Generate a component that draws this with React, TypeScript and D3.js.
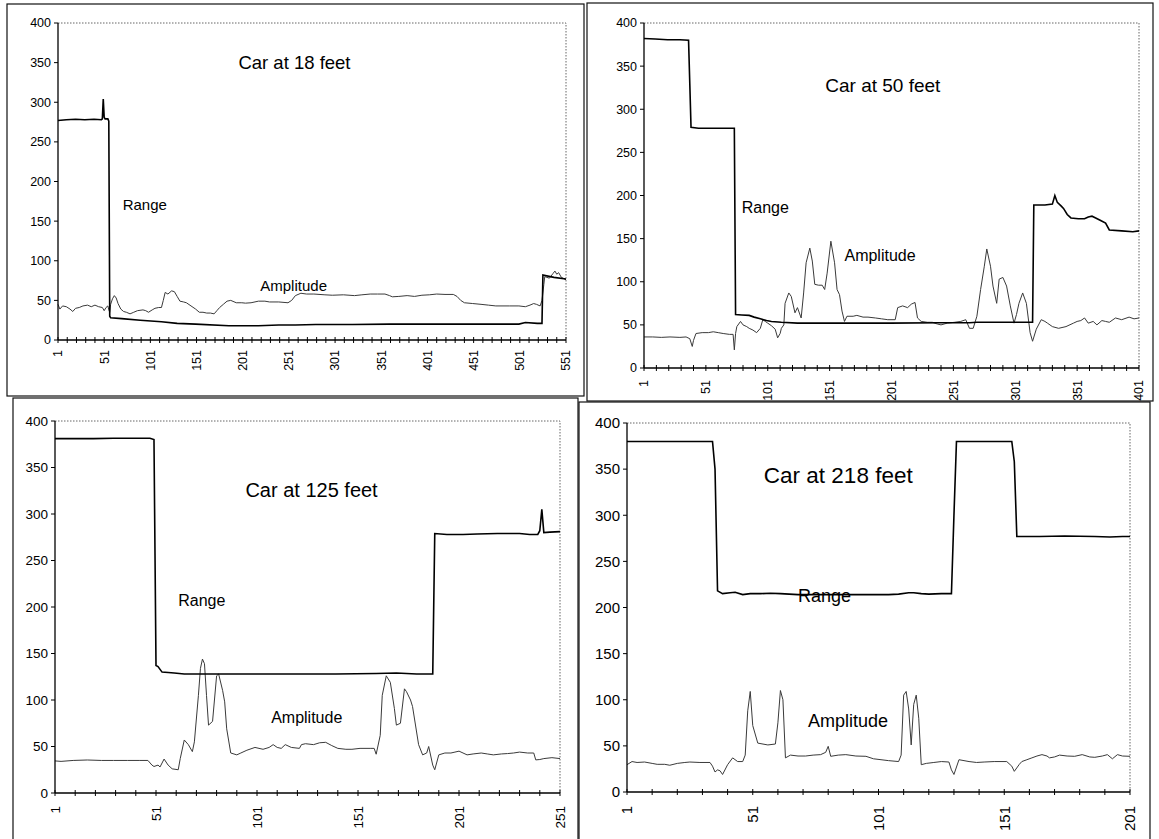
import * as d3 from "d3";

// Four radar traces (Range + Amplitude) for a car at different distances.
// Values as [sample index, value] vertices.
type Pt = [number, number];

const yTickValues = [0, 50, 100, 150, 200, 250, 300, 350, 400];
const titles = ["Car at 18 feet", "Car at 50 feet", "Car at 125 feet", "Car at 218 feet"];
const sampleCounts = [551, 401, 251, 201];

const p1Range: Pt[] = [
  [1, 277], [10, 278], [20, 278.5], [30, 278], [40, 278.5], [48, 278], [49, 279], [50, 304], [51, 281],
  [52, 279], [55, 279], [56, 276], [57, 30], [58, 28], [70, 27], [90, 25], [113, 23], [130, 21], [150, 20],
  [186, 18], [218, 18], [240, 19], [258, 19], [280, 19.5], [320, 19.5], [360, 20], [400, 20], [450, 20],
  [500, 20], [507, 22], [520, 21], [525, 21], [526, 82], [534, 80], [538, 79], [551, 77],
];
const p1Amp: Pt[] = [
  [1, 45], [3, 39], [6, 43], [10, 42], [14, 39], [17, 36], [20, 40], [24, 41], [28, 43], [33, 44], [37, 42],
  [41, 44], [45, 42], [49, 41], [51, 37], [53, 41], [55, 43], [56, 38], [57, 35], [58, 45], [60, 52], [62, 56],
  [64, 53], [66, 46], [69, 39], [72, 36], [75, 35], [79, 33], [83, 35], [87, 37], [93, 38], [96, 37], [99, 35],
  [103, 38], [106, 40], [110, 41], [113, 41], [115, 50], [117, 60], [120, 58], [124, 62], [127, 61], [130, 55],
  [133, 49], [137, 48], [140, 47], [145, 43], [150, 39], [154, 35], [158, 35], [162, 34], [166, 34], [170, 33],
  [173, 37], [176, 41], [180, 45], [184, 49], [188, 50], [194, 47], [200, 47], [204, 46.5], [210, 47],
  [218, 49], [225, 49], [230, 48], [240, 48], [250, 47], [254, 50], [258, 56], [264, 59], [270, 58], [278, 58],
  [290, 57], [298, 56.5], [310, 57], [322, 56], [330, 57], [339, 58], [347, 58], [355, 58], [360, 56],
  [363, 54.5], [370, 55], [379, 56], [387, 55], [395, 56.5], [403, 57], [411, 58], [420, 57.5], [429, 57.5],
  [433, 55], [437, 50], [441, 47], [450, 46], [459, 45], [467, 44], [475, 43], [490, 43], [500, 43], [507, 42],
  [512, 44], [516, 46], [519, 45], [523, 43], [525, 50], [527, 70], [528, 80], [533, 78], [537, 84], [539, 87],
  [541, 83], [543, 85], [546, 79], [551, 76],
];

const p2Range: Pt[] = [
  [1, 382], [10, 381.5], [20, 380.5], [30, 380.5], [37, 380], [38, 330], [39, 279], [45, 278], [60, 278],
  [74, 278], [75, 62], [80, 61.5], [86, 61], [90, 59], [95, 57], [100, 55], [104, 54], [112, 53], [125, 52],
  [150, 52], [200, 52], [240, 52.5], [264, 52.5], [270, 53], [300, 53], [315, 53], [316, 189], [325, 189],
  [331, 190], [333, 200], [335, 192], [338, 188], [340, 185], [343, 178], [346, 174], [352, 173], [357, 173],
  [360, 175], [363, 176], [366, 174], [370, 171], [374, 168], [377, 160], [387, 159], [396, 158], [401, 159],
];
const p2Amp: Pt[] = [
  [1, 36], [8, 36], [15, 35.5], [22, 36], [30, 35.5], [35, 36], [38, 34], [40, 25], [41, 32], [43, 40],
  [48, 41], [53, 41], [57, 42], [61, 41], [65, 40], [70, 39], [73, 39], [74, 21], [75, 40], [76, 48], [79, 54],
  [81, 50], [84, 48], [86, 46], [89, 44], [92, 41], [95, 46], [97, 56], [99, 54], [101, 52], [104, 49],
  [107, 45], [109, 35], [111, 40], [112, 46], [114, 50], [115, 75], [118, 87], [120, 83], [123, 64], [125, 70],
  [128, 58], [130, 87], [132, 122], [135, 139], [137, 124], [139, 97], [142, 96], [145, 96], [147, 91],
  [149, 110], [152, 147], [155, 122], [157, 91], [159, 85], [161, 66], [163, 54], [165, 60], [170, 60],
  [173, 61], [178, 59], [182, 59], [188, 58], [193, 57], [198, 56], [204, 56], [206, 70], [210, 72], [214, 70],
  [217, 74], [220, 76], [222, 58], [225, 54], [230, 53], [234, 53], [238, 51], [241, 50], [246, 52], [252, 53],
  [257, 54], [261, 56], [264, 46], [267, 46], [270, 60], [273, 91], [276, 118], [278, 138], [281, 118],
  [283, 95], [286, 75], [288, 103], [291, 105], [294, 95], [297, 72], [300, 52], [302, 62], [304, 75],
  [307, 87], [310, 75], [313, 41], [315, 31], [318, 45], [322, 56], [325, 54], [327, 52], [331, 48], [336, 46],
  [342, 48], [348, 52], [351, 54], [354, 55], [357, 58], [360, 52], [364, 54], [367, 50], [371, 55], [374, 54],
  [377, 53], [382, 58], [387, 56], [393, 59], [397, 57], [401, 58],
];

const p3Range: Pt[] = [
  [1, 381], [10, 381], [20, 381], [30, 381.5], [40, 381.5], [48, 381.5], [50, 380], [51, 137], [52, 136],
  [54, 130], [57, 129.5], [60, 129], [65, 128], [80, 128], [100, 128], [120, 128], [140, 128], [160, 128.5],
  [170, 129], [180, 128], [188, 128], [189, 279], [195, 278], [203, 278], [210, 278.5], [220, 279], [231, 279],
  [236, 278], [240, 278], [241, 282], [242, 305], [243, 280], [246, 280.5], [251, 281],
];
const p3Amp: Pt[] = [
  [1, 34.5], [4, 34], [10, 35], [17, 35.5], [24, 35], [30, 35], [37, 35], [43, 35], [47, 35], [49, 30],
  [50, 28.5], [52, 30], [53, 28], [55, 36.5], [57, 30], [59, 26], [62, 25], [63, 37], [65, 57], [67, 52],
  [69, 44.5], [70, 55], [72, 105], [73, 134], [74, 144], [75, 139], [76, 105], [77, 73], [79, 77], [81, 126],
  [82, 128], [84, 110], [85, 98], [86, 69], [88, 43], [91, 41], [93, 43], [96, 46], [100, 49], [104, 47],
  [107, 49], [109, 52], [111, 49], [113, 48], [115, 52], [118, 49], [122, 48], [123, 52], [125, 53], [129, 52],
  [132, 54], [135, 54.5], [138, 51], [141, 48], [145, 47], [148, 47], [152, 48], [157, 48], [159, 48],
  [160, 41.7], [162, 62], [163, 105], [165, 126], [167, 119], [169, 91], [170, 73], [172, 75], [174, 112],
  [175, 109], [177, 100], [178, 93], [181, 52], [183, 41], [185, 43], [186, 50], [188, 30], [189, 25],
  [191, 41], [194, 43], [197, 43], [199, 44], [201, 45], [205, 41], [208, 42], [212, 43], [215, 42], [218, 41],
  [222, 42], [225, 42.4], [228, 43], [231, 44], [235, 43], [238, 43], [239, 35.6], [241, 36], [243, 37],
  [247, 38], [251, 37],
];

const p4Range: Pt[] = [
  [1, 380], [10, 380], [20, 380], [30, 380], [35, 380], [36, 350], [37, 218], [39, 215], [42, 216],
  [44, 216.5], [47, 214], [50, 215], [54, 215], [58, 215.5], [62, 215], [69, 214], [75, 214], [84, 214],
  [90, 214], [99, 214], [105, 214], [109, 214.5], [113, 216], [115, 216], [118, 215], [121, 214.5], [126, 215],
  [130, 215], [131, 300], [132, 380], [140, 380], [148, 380], [154, 380], [155, 358], [156, 277], [165, 277],
  [175, 277.5], [187, 277], [193, 276.5], [198, 277], [201, 277],
];
const p4Amp: Pt[] = [
  [1, 29.6], [3, 33], [5, 32], [8, 32.5], [11, 31], [13, 30], [16, 30], [18, 29], [21, 31], [24, 32],
  [26, 32.5], [30, 32], [34, 32], [35, 28], [36, 21.7], [37, 24], [38, 23], [39, 19], [41, 29.6], [43, 37],
  [45, 33], [47, 33], [48, 40], [49, 88], [50, 109], [51, 72], [53, 53], [57, 51], [60, 52], [61, 75],
  [62, 110], [63, 100], [64, 37], [66, 40], [69, 39], [72, 39], [75, 40], [78, 40.5], [80, 43], [81, 49.5],
  [82, 38.7], [85, 40], [88, 40.5], [92, 39], [96, 38.7], [99, 36], [102, 35], [105, 34], [109, 33], [110, 40],
  [111, 105], [112, 109], [113, 90], [114, 51], [115, 95], [116, 105], [117, 80], [118, 29.6], [120, 31],
  [123, 32], [126, 33], [129, 32.5], [130, 24], [131, 19], [133, 35], [135, 34], [137, 33], [140, 32],
  [143, 32.5], [147, 33], [152, 33], [154, 28], [155, 22.4], [157, 30], [158, 33], [160, 35], [162, 37],
  [164, 39], [166, 40.5], [168, 39], [169, 37], [171, 38], [173, 40], [176, 39], [179, 38.7], [182, 40.5],
  [185, 38], [187, 37.6], [190, 39], [192, 40.5], [194, 36], [196, 40.5], [198, 39], [201, 38.7],
];

const rangeSeries = [p1Range, p2Range, p3Range, p4Range];
const ampSeries = [p1Amp, p2Amp, p3Amp, p4Amp];

// layout: frame [x0,y0,x1,y1], plot [left,top,right,bottom], annotations in data coords
const layouts = [
  { frame: [7, 4, 584, 396], plot: [58, 23, 566, 340], tick: 12.5, title: 18.5, label: 15, gap: 10,
    titleAt: [257, 342], rangeAt: [71, 164], ampAt: [220, 62] },
  { frame: [587, 3, 1153, 401], plot: [644, 23, 1139, 368], tick: 12.5, title: 19, label: 16, gap: 12,
    titleAt: [194, 320], rangeAt: [80, 180], ampAt: [163, 124] },
  { frame: [13, 398, 578, 860], plot: [55, 421, 560, 793], tick: 13.5, title: 20, label: 16, gap: 13,
    titleAt: [128, 318], rangeAt: [62, 201], ampAt: [108, 75] },
  { frame: [579, 402, 1150, 860], plot: [627, 423, 1130, 792], tick: 15, title: 22.5, label: 18, gap: 14,
    titleAt: [85, 335], rangeAt: [69, 206], ampAt: [73, 70] },
];

const FONT = "'Liberation Sans', Arial, Helvetica, sans-serif";

function Panel({ i }: { i: number }) {
  const lay = layouts[i];
  const n = sampleCounts[i];
  const [l, t, r, b] = lay.plot;
  const x = d3.scaleLinear().domain([1, n]).range([l, r]);
  const y = d3.scaleLinear().domain([0, 400]).range([b, t]);
  const line = d3.line<Pt>().x((d) => x(d[0])).y((d) => y(d[1]));
  const minor = d3.range(1, n + 1, 10);
  const major = d3.range(1, n + 1, 50);
  const [fx0, fy0, fx1, fy1] = lay.frame;

  return (
    <g fontFamily={FONT}>
      <rect x={fx0} y={fy0} width={fx1 - fx0} height={fy1 - fy0} fill="none" stroke="#111" strokeWidth={1.2} />
      {/* plot area border, dotted top and right */}
      <path d={`M${l},${t}H${r}V${b}`} fill="none" stroke="#666" strokeWidth={1} strokeDasharray="1.5 1.5" />

      <path d={line(ampSeries[i]) ?? ""} fill="none" stroke="#3a3a3a" strokeWidth={1} />
      <path d={line(rangeSeries[i]) ?? ""} fill="none" stroke="#000" strokeWidth={1.6} />

      {/* axes */}
      <line x1={l} x2={l} y1={t} y2={b} stroke="#000" strokeWidth={1.3} />
      <line x1={l} x2={r} y1={b} y2={b} stroke="#000" strokeWidth={1.3} />
      {yTickValues.map((v) => (
        <g key={v}>
          <line x1={l - 4} x2={l} y1={y(v)} y2={y(v)} stroke="#000" />
          <text x={l - 7} y={y(v)} dy="0.35em" textAnchor="end" fontSize={lay.tick} fill="#000">
            {v}
          </text>
        </g>
      ))}
      {minor.map((c) => (
        <line key={c} x1={x(c)} x2={x(c)} y1={b - 3} y2={b + 3} stroke="#000" />
      ))}
      {major.map((c) => (
        <text
          key={c}
          transform={`translate(${x(c)},${b + lay.gap}) rotate(-90)`}
          dy="0.35em"
          textAnchor="end"
          fontSize={lay.tick}
          fill="#000"
        >
          {c}
        </text>
      ))}

      <text x={x(lay.titleAt[0])} y={y(lay.titleAt[1])} textAnchor="middle" fontSize={lay.title} fill="#000">
        {titles[i]}
      </text>
      <text x={x(lay.rangeAt[0])} y={y(lay.rangeAt[1])} fontSize={lay.label} fill="#000">
        Range
      </text>
      <text x={x(lay.ampAt[0])} y={y(lay.ampAt[1])} fontSize={lay.label} fill="#000">
        Amplitude
      </text>
    </g>
  );
}

export default function App() {
  return (
    <svg
      width={1159}
      height={839}
      viewBox="0 0 1159 839"
      style={{ position: "absolute", left: 0, top: 0, display: "block", background: "#fff" }}
    >
      <rect width={1159} height={839} fill="#fff" />
      {layouts.map((_, i) => (
        <Panel key={i} i={i} />
      ))}
    </svg>
  );
}
